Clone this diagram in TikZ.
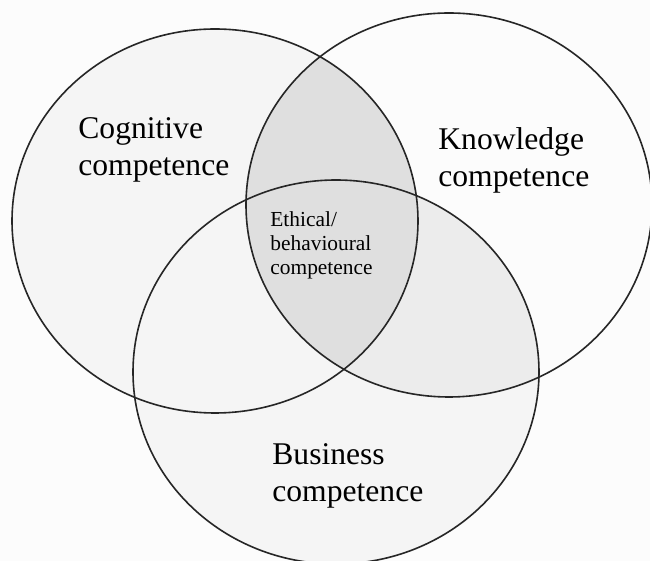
\documentclass[tikz,border=0pt]{standalone}
\usepackage{fontspec}
\setmainfont{Liberation Serif}
\usepackage{tikz}
\usetikzlibrary{positioning}

\definecolor{paper}{gray}{0.99}
\definecolor{lightarea}{gray}{0.96}
\definecolor{midarea}{gray}{0.925}
\definecolor{darkarea}{gray}{0.875}

\begin{document}
\begin{tikzpicture}[x=0.5pt,y=-0.5pt,
  ring/.style={draw=black!85,line width=0.8pt},
  biglabel/.style={anchor=base west,align=left,inner sep=0pt,
    font=\fontsize{15.8}{18.5}\selectfont},
  smalllabel/.style={anchor=base west,align=left,inner sep=0pt,
    font=\fontsize{10.7}{12}\selectfont}]
\useasboundingbox (0,0) rectangle (650,561);
\fill[paper] (0,0) rectangle (650,561);
\def\CogPath{(215,221) ellipse [x radius=203,y radius=192]}
\def\KnoPath{(449,205) ellipse [x radius=203,y radius=192]}
\def\BusPath{(336,372) ellipse [x radius=203,y radius=192]}
% light areas
\fill[lightarea] \CogPath;
\fill[lightarea] \BusPath;
\fill[paper] \KnoPath;
% shaded overlaps
\begin{scope}
  \clip \KnoPath;
  \fill[midarea] \BusPath;
  \fill[darkarea] \CogPath;
\end{scope}
% outlines
\draw[ring] \CogPath;
\draw[ring] \KnoPath;
\draw[ring] \BusPath;
% labels (anchored at the last baseline)
\node[biglabel] (cog) at (78,176) {Cognitive\\competence};
\node[biglabel] (kno) at (438,187) {Knowledge\\competence};
\node[biglabel] (bus) at (272,502) {Business\\competence};
\node[smalllabel] (eth) at (270,275) {Ethical/\\behavioural\\competence};
\end{tikzpicture}
\end{document}
